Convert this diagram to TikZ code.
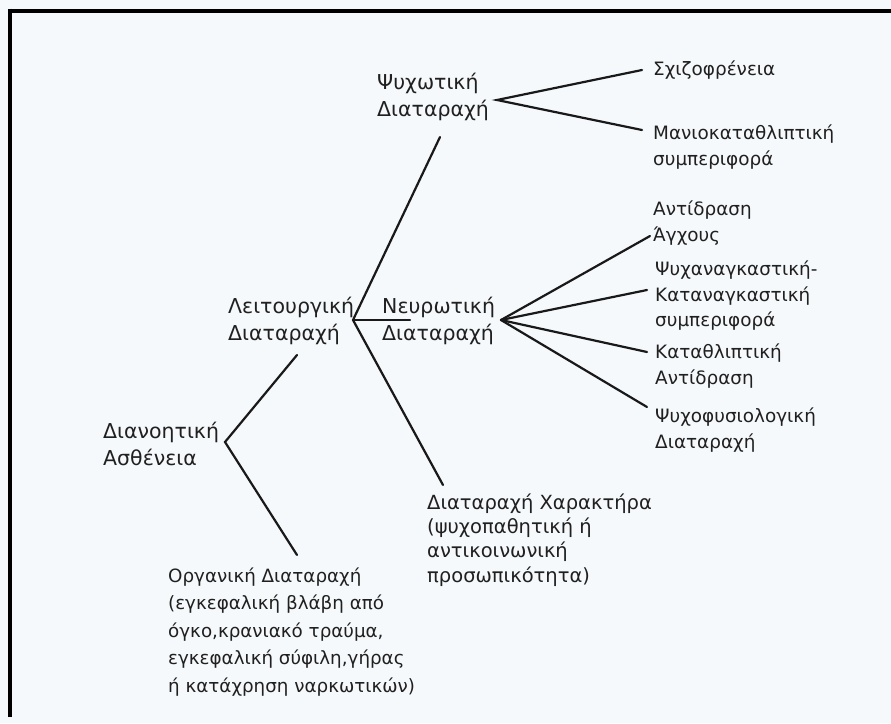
\documentclass[tikz,border=0pt]{standalone}
\usepackage{fontspec}
\setmainfont{DejaVu Sans}
\definecolor{bg}{RGB}{246,249,251}
\definecolor{ink}{RGB}{32,32,32}
\definecolor{wire}{RGB}{25,25,25}
\begin{document}
\begin{tikzpicture}[x=1pt,y=-1pt,
  lbl/.style={anchor=west,inner sep=0pt,align=left,text=ink},
  mainf/.style={lbl,font=\fontsize{20.5}{26.5}\selectfont},
  leaff/.style={lbl,font=\fontsize{18.4}{25.5}\selectfont},
  charf/.style={lbl,font=\fontsize{19.5}{24.3}\selectfont},
  orgf/.style={lbl,font=\fontsize{18.3}{27.5}\selectfont},
  wirel/.style={draw=wire,line width=2.2pt,line cap=round},
  frame/.style={draw=black,line width=4pt}]
\fill[bg] (0,0) rectangle (891,723);
\useasboundingbox (0,0) rectangle (891,723);
% frame
\coordinate (f1) at (8,10.5);
\coordinate (f2) at (891,10.5);
\coordinate (f3) at (10,8.5);
\coordinate (f4) at (10,717);
\draw[frame] (f1) -- (f2);
\draw[frame] (f3) -- (f4);
% nodes
\node[mainf] (root) at (103,444) {Διανοητική\\Ασθένεια};
\node[mainf] (leit) at (228,321) {Λειτουργική\\Διαταραχή};
\node[mainf] (psy) at (377,97) {Ψυχωτική\\Διαταραχή};
\node[mainf] (neu) at (382,321) {Νευρωτική\\Διαταραχή};
\node[leaff] (sch) at (653,70) {Σχιζοφρένεια};
\node[leaff] (man) at (653,147) {Μανιοκαταθλιπτική\\συμπεριφορά};
\node[leaff] (anx) at (653,223) {Αντίδραση\\Άγχους};
\node[leaff] (ocd) at (655,296) {Ψυχαναγκαστική-\\Καταναγκαστική\\συμπεριφορά};
\node[leaff] (dep) at (655,366) {Καταθλιπτική\\Αντίδραση};
\node[leaff] (psf) at (655,430) {Ψυχοφυσιολογική\\Διαταραχή};
\node[charf] (chr) at (427,540) {Διαταραχή Χαρακτήρα\\(ψυχοπαθητική ή\\αντικοινωνική\\προσωπικότητα)};
\node[orgf] (org) at (168,632) {Οργανική Διαταραχή\\(εγκεφαλική βλάβη από\\όγκο,κρανιακό τραύμα,\\εγκεφαλική σύφιλη,γήρας\\ή κατάχρηση ναρκωτικών)};
% junction points
\coordinate (jr) at (225,442);
\coordinate (jl) at (353,320);
\coordinate (jp) at (497,100);
\coordinate (jn) at (501,320);
% branch ends
\coordinate (eleit) at (297,355);
\coordinate (eorg) at (297,555);
\coordinate (epsy) at (440,137);
\coordinate (eneu) at (410,320);
\coordinate (echr) at (443,485);
\coordinate (esch) at (642,70);
\coordinate (eman) at (642,130);
\coordinate (eanx) at (650,236);
\coordinate (eocd) at (647,290);
\coordinate (edep) at (647,352);
\coordinate (epsf) at (647,407);
% connectors
\draw[wirel] (eleit) -- (jr) -- (eorg);
\draw[wirel] (epsy) -- (jl) -- (echr);
\draw[wirel] (jl) -- (eneu);
\draw[wirel] (esch) -- (jp) -- (eman);
\draw[wirel] (eanx) -- (jn);
\draw[wirel] (eocd) -- (jn);
\draw[wirel] (edep) -- (jn);
\draw[wirel] (epsf) -- (jn);
\end{tikzpicture}
\end{document}
